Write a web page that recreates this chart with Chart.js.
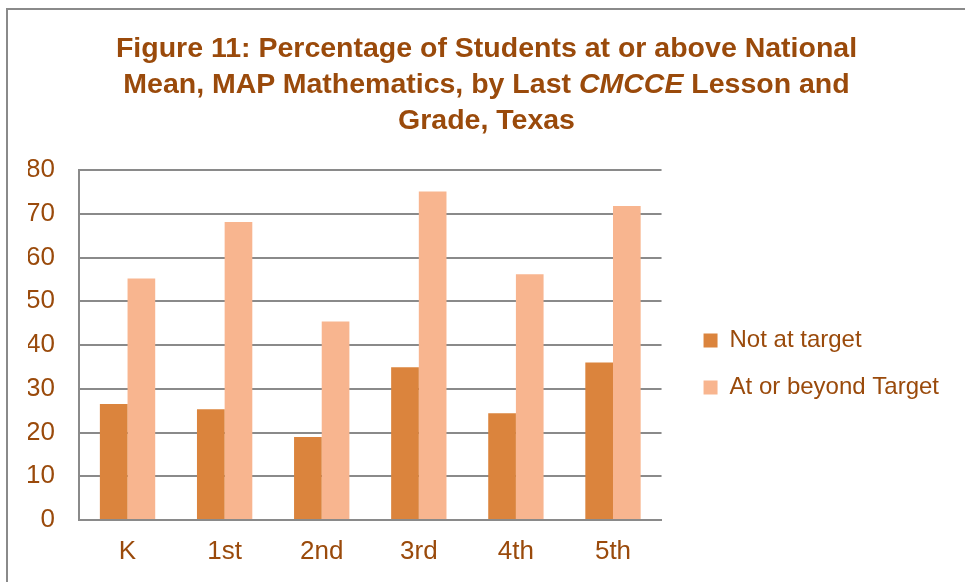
<!DOCTYPE html>
<html>
<head>
<meta charset="utf-8">
<script src="https://cdn.jsdelivr.net/npm/chart.js@4.4.1/dist/chart.umd.min.js"></script>
<style>
  html, body { margin: 0; padding: 0; background: #fff; }
  body { width: 965px; height: 582px; position: relative; overflow: hidden; }
  #frame {
    position: absolute; left: 6px; top: 8px; width: 959px; height: 574px;
    box-sizing: border-box;
    border-left: 2px solid #8a8a8a; border-top: 2px solid #8a8a8a;
  }
  #frame canvas { position: absolute; left: 0; top: 0; }
  #title {
    position: absolute; left: 0; top: 19px; width: 957px;
    text-align: center; color: #9a4a0b;
    font: bold 28.5px "Liberation Sans", sans-serif;
    line-height: 36px;
  }
</style>
</head>
<body>
<div id="frame">
  <canvas id="chart" width="957" height="572"></canvas>
  <div id="title">Figure 11: Percentage of Students at or above National<br>Mean, MAP Mathematics, by Last <em>CMCCE</em> Lesson and<br>Grade, Texas</div>
</div>
<script>
// grades and series
const grades = ['K', '1st', '2nd', '3rd', '4th', '5th'];
const notAtTarget = [26.5, 25.3, 19.0, 34.9, 24.4, 36.0];
const atOrBeyond = [55.2, 68.1, 45.4, 75.1, 56.2, 71.8];
const yTicks = [0, 10, 20, 30, 40, 50, 60, 70, 80];

const TEXT = '#9a4a0b';
const GRID = '#8a8a8a';
const FONT = '"Liberation Sans", sans-serif';
const LEGEND_GAP = 19;     // extra room between plot and legend items
const LEGEND_SHIFT_Y = -12;

// push legend items right of the plot without changing their vertical spacing
const legendGap = {
  id: 'legendGap',
  beforeInit(chart) {
    const fit = chart.legend.fit;
    chart.legend.fit = function () {
      fit.call(this);
      this.width += LEGEND_GAP;
    };
  },
  afterLayout(chart) {
    const lg = chart.legend;
    lg.left += LEGEND_GAP;
    lg.top += LEGEND_SHIFT_Y;
    lg.bottom += LEGEND_SHIFT_Y;
  }
};

new Chart(document.getElementById('chart'), {
  type: 'bar',
  data: {
    labels: grades,
    datasets: [
      {
        label: 'Not at target',
        data: notAtTarget,
        backgroundColor: '#db843d',
        borderWidth: 0,
        categoryPercentage: 0.57,
        barPercentage: 1.0
      },
      {
        label: 'At or beyond Target',
        data: atOrBeyond,
        backgroundColor: '#f8b58f',
        borderWidth: 0,
        categoryPercentage: 0.57,
        barPercentage: 1.0
      }
    ]
  },
  options: {
    responsive: false,
    animation: false,
    layout: { padding: { top: 160, left: 20, right: 16, bottom: 0 } },
    plugins: {
      title: { display: false },
      tooltip: { enabled: false },
      legend: {
        position: 'right',
        maxWidth: 400,
        labels: {
          color: TEXT,
          font: { family: FONT, size: 24 },
          boxWidth: 14,
          boxHeight: 14,
          padding: 23
        }
      }
    },
    scales: {
      x: {
        afterFit: (axis) => { axis.height = 62; },
        grid: { display: false, drawTicks: false },
        border: { display: true, color: GRID, width: 2 },
        ticks: {
          color: TEXT,
          padding: 16,
          font: { family: FONT, size: 26 }
        }
      },
      y: {
        min: 0,
        max: 80,
        afterBuildTicks: (axis) => { axis.ticks = yTicks.map(v => ({ value: v })); },
        afterFit: (axis) => { axis.width = 51; },
        grid: { color: GRID, lineWidth: 2, drawTicks: false },
        border: { display: true, color: GRID, width: 2 },
        ticks: {
          color: TEXT,
          padding: 24,
          font: { family: FONT, size: 26 }
        }
      }
    }
  },
  plugins: [legendGap]
});
</script>
</body>
</html>
